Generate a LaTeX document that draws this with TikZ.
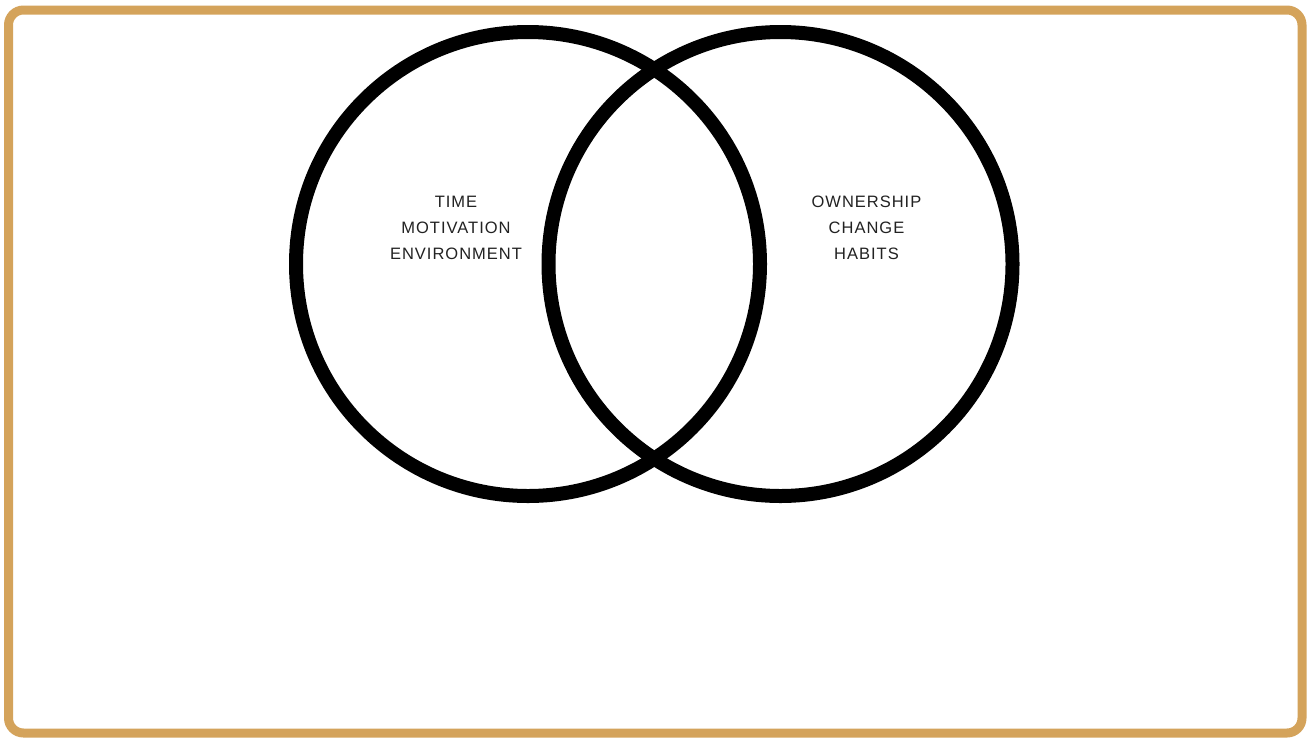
\documentclass[tikz,border=0pt]{standalone}
\usepackage{fontspec}
\newfontfamily\labfont[LetterSpace=6]{Liberation Sans}
\definecolor{frame}{HTML}{D4A35B}
\definecolor{txt}{HTML}{222222}
\begin{document}
\begin{tikzpicture}[x=1pt,y=-1pt,
  ring/.style={draw=black,line width=14pt},
  lab/.style={font=\labfont\fontsize{16.5}{26}\selectfont,text=txt,align=center,inner sep=0pt}]
\useasboundingbox (0,0) rectangle (1312,737);
\fill[white] (0,0) rectangle (1312,737);
\draw[frame,line width=9pt,rounded corners=15pt] (8.5,10) rectangle (1302,733);
\node[circle,ring,minimum size=464pt,inner sep=0pt] (left) at (528,264) {};
\node[circle,ring,minimum size=464pt,inner sep=0pt] (right) at (780.5,264) {};
\node[lab] (ltext) at (456,228) {TIME\\MOTIVATION\\ENVIRONMENT};
\node[lab] (rtext) at (866.5,228) {OWNERSHIP\\CHANGE\\HABITS};
\end{tikzpicture}
\end{document}
